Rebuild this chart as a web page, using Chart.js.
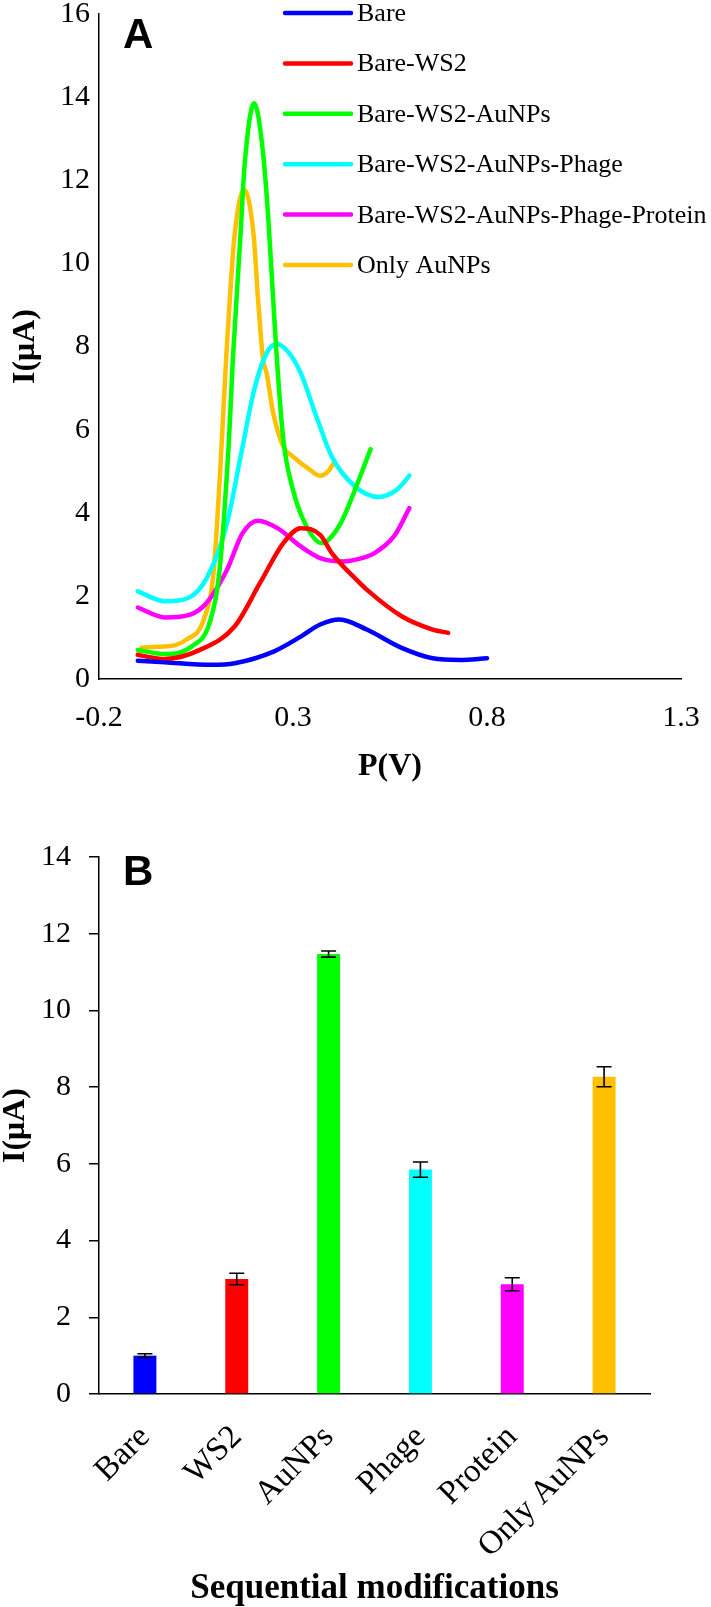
<!DOCTYPE html>
<html lang="en">
<head>
<meta charset="UTF-8">
<title>DPV response</title>
<style>
  body { margin: 0; background: #fff; }
  canvas { display: block; }
</style>
</head>
<body>
<canvas id="chartA" width="711" height="800"></canvas>
<canvas id="chartB" width="711" height="807"></canvas>

<script src="https://cdn.jsdelivr.net/npm/chart.js"></script>
<script>
// ---- panel A: voltammograms ----
const seriesNames = ['Bare', 'Bare-WS2', 'Bare-WS2-AuNPs', 'Bare-WS2-AuNPs-Phage',
                     'Bare-WS2-AuNPs-Phage-Protein', 'Only AuNPs'];

const bareX = [-0.1, -0.03, 0.09, 0.15, 0.25, 0.32, 0.37, 0.42, 0.49, 0.58, 0.66, 0.73, 0.8];
const bareY = [0.44, 0.40, 0.34, 0.38, 0.66, 1.02, 1.31, 1.43, 1.19, 0.75, 0.50, 0.46, 0.50];

const ws2X = [-0.1, -0.03, 0.06, 0.15, 0.215, 0.275, 0.32, 0.37, 0.40, 0.47, 0.49, 0.58, 0.66, 0.70];
const ws2Y = [0.58, 0.48, 0.70, 1.27, 2.31, 3.27, 3.63, 3.47, 3.03, 2.33, 2.15, 1.51, 1.19, 1.11];

const aunpsX = [-0.1, -0.03, 0.04, 0.085, 0.11, 0.135, 0.145, 0.165, 0.175, 0.2, 0.222, 0.236,
                0.249, 0.258, 0.275, 0.30, 0.335, 0.374, 0.42, 0.463, 0.50];
const aunpsY = [0.70, 0.60, 0.79, 1.35, 2.55, 5.76, 7.68, 10.73, 12.33, 13.85, 12.73, 11.13,
                9.12, 7.76, 5.76, 4.55, 3.67, 3.27, 3.7, 4.63, 5.53];

const phageX = [-0.1, -0.03, 0.03, 0.08, 0.13, 0.165, 0.2, 0.232, 0.258, 0.29, 0.32, 0.36,
                0.40, 0.46, 0.52, 0.567, 0.60];
const phageY = [2.11, 1.87, 1.95, 2.47, 3.75, 5.35, 6.96, 7.84, 8.06, 7.84, 7.36, 6.32,
                5.35, 4.63, 4.38, 4.55, 4.89];

const proteinX = [-0.1, -0.03, 0.035, 0.077, 0.13, 0.17, 0.21, 0.26, 0.32, 0.37, 0.43, 0.47,
                  0.51, 0.56, 0.60];
const proteinY = [1.72, 1.48, 1.55, 1.83, 2.63, 3.51, 3.81, 3.63, 3.19, 2.91, 2.83, 2.89,
                  3.03, 3.43, 4.11];

const onlyX = [-0.1, -0.09, -0.03, 0.026, 0.07, 0.095, 0.112, 0.128, 0.137, 0.15, 0.174, 0.198,
               0.21, 0.223, 0.232, 0.249, 0.275, 0.30, 0.344, 0.37, 0.39, 0.406];
const onlyY = [0.58, 0.75, 0.78, 0.95, 1.43, 2.55, 4.95, 7.76, 9.12, 10.73, 11.77, 10.73,
               9.12, 7.68, 7.36, 6.4, 5.59, 5.35, 5.03, 4.89, 4.99, 5.21];

const xTickValues = [-0.2, 0.3, 0.8, 1.3];

// ---- panel B: peak currents ----
const categories = ['Bare', 'WS2', 'AuNPs', 'Phage', 'Protein', 'Only AuNPs'];
const barValues = [1.0, 3.0, 11.47, 5.85, 2.86, 8.27];
const barErrors = [0.05, 0.15, 0.08, 0.2, 0.17, 0.26];

const colors = ['#0000ff', '#ff0000', '#00ff00', '#00ffff', '#ff00ff', '#ffc000'];

const serif = "'Liberation Serif', 'Times New Roman', serif";
Chart.defaults.font.family = serif;
Chart.defaults.color = '#000';

function toPoints(xs, ys) {
    return xs.map((x, i) => ({ x: x, y: ys[i] }));
}

// force axis box size so the plot area lands where the original has it
function fixAxis(size) {
    return function (axis) {
        if (axis.isHorizontal()) axis.height = size;
        else axis.width = size;
        axis.paddingTop = 0; axis.paddingBottom = 0;
        axis.paddingLeft = 0; axis.paddingRight = 0;
    };
}

// big bold letter in the corner
const panelLabel = {
    id: 'panelLabel',
    afterDraw(chart, args, opts) {
        const ctx = chart.ctx;
        ctx.save();
        ctx.font = "bold 42px 'Liberation Sans', Arial, sans-serif";
        ctx.fillStyle = '#000';
        ctx.textBaseline = 'alphabetic';
        ctx.fillText(opts.text, opts.x, opts.y);
        ctx.restore();
    }
};

// legend drawn as a plain column of line + name
const lineLegend = {
    id: 'lineLegend',
    afterDraw(chart, args, opts) {
        if (!opts.show) return;
        const ctx = chart.ctx;
        ctx.save();
        ctx.font = '26px ' + serif;
        ctx.textBaseline = 'alphabetic';
        chart.data.datasets.forEach((ds, i) => {
            const y = opts.top + i * opts.step;
            ctx.strokeStyle = ds.borderColor;
            ctx.lineWidth = 4.5;
            ctx.lineCap = 'round';
            ctx.beginPath();
            ctx.moveTo(opts.x, y);
            ctx.lineTo(opts.x + opts.len, y);
            ctx.stroke();
            ctx.fillStyle = '#000';
            ctx.fillText(ds.label, opts.x + opts.len + 6, y + 8);
        });
        ctx.restore();
    }
};

const errorBars = {
    id: 'errorBars',
    afterDatasetsDraw(chart, args, opts) {
        if (!opts.show) return;
        const ctx = chart.ctx;
        const yScale = chart.scales.y;
        const meta = chart.getDatasetMeta(0);
        ctx.save();
        ctx.strokeStyle = '#000';
        ctx.lineWidth = 1.6;
        meta.data.forEach((bar, i) => {
            const hi = yScale.getPixelForValue(barValues[i] + barErrors[i]);
            const lo = yScale.getPixelForValue(barValues[i] - barErrors[i]);
            ctx.beginPath();
            ctx.moveTo(bar.x, hi); ctx.lineTo(bar.x, lo);
            ctx.moveTo(bar.x - 7.5, hi); ctx.lineTo(bar.x + 7.5, hi);
            ctx.moveTo(bar.x - 7.5, lo); ctx.lineTo(bar.x + 7.5, lo);
            ctx.stroke();
        });
        ctx.restore();
    }
};

Chart.register(panelLabel, lineLegend, errorBars);

const seriesX = [bareX, ws2X, aunpsX, phageX, proteinX, onlyX];
const seriesY = [bareY, ws2Y, aunpsY, phageY, proteinY, onlyY];

new Chart(document.getElementById('chartA'), {
    type: 'scatter',
    data: {
        datasets: seriesNames.map((name, i) => ({
            label: name,
            data: toPoints(seriesX[i], seriesY[i]),
            showLine: true,
            borderColor: colors[i],
            backgroundColor: colors[i],
            borderWidth: 4.5,
            borderCapStyle: 'round',
            pointRadius: 0,
            cubicInterpolationMode: 'monotone'
        }))
    },
    options: {
        responsive: false,
        animation: false,
        layout: { padding: { top: 14, right: 30, left: 0, bottom: 0 } },
        plugins: {
            legend: { display: false },
            tooltip: { enabled: false },
            panelLabel: { text: 'A', x: 123, y: 48 },
            lineLegend: { show: true, x: 285, len: 66, top: 13, step: 50.4 },
            errorBars: { show: false }
        },
        scales: {
            x: {
                type: 'linear',
                min: -0.2,
                max: 1.3,
                afterBuildTicks: axis => { axis.ticks = xTickValues.map(v => ({ value: v })); },
                afterFit: fixAxis(121),
                grid: { display: false, drawTicks: false },
                border: { color: '#000', width: 1.5 },
                ticks: { font: { size: 30 }, padding: 21, callback: v => v.toFixed(1) },
                title: {
                    display: true, text: 'P(V)',
                    font: { size: 32, weight: 'bold', lineHeight: 1 },
                    padding: { top: 0, bottom: 17 }
                }
            },
            y: {
                min: 0,
                max: 16,
                afterFit: fixAxis(99),
                grid: { display: false, drawTicks: false },
                border: { color: '#000', width: 1.5 },
                ticks: { stepSize: 2, font: { size: 30 }, padding: 9 },
                title: {
                    display: true, text: 'I(μA)',
                    font: { size: 32, weight: 'bold', lineHeight: 1 },
                    padding: { top: 10, bottom: 0 }
                }
            }
        }
    }
});

new Chart(document.getElementById('chartB'), {
    type: 'bar',
    data: {
        labels: categories,
        datasets: [{
            label: 'I(μA)',
            data: barValues,
            backgroundColor: colors,
            barPercentage: 0.25,
            categoryPercentage: 1
        }]
    },
    options: {
        responsive: false,
        animation: false,
        layout: { padding: { top: 57, right: 61, left: 0, bottom: 0 } },
        plugins: {
            legend: { display: false },
            tooltip: { enabled: false },
            panelLabel: { text: 'B', x: 123, y: 85 },
            lineLegend: { show: false },
            errorBars: { show: true }
        },
        scales: {
            x: {
                afterFit: fixAxis(213),
                grid: { display: false },
                border: { color: '#000', width: 1.5 },
                ticks: { font: { size: 33 }, padding: 16, minRotation: 45, maxRotation: 45 },
                title: {
                    display: true, text: 'Sequential modifications',
                    font: { size: 35, weight: 'bold', lineHeight: 1 },
                    padding: { top: 0, bottom: 1 }
                }
            },
            y: {
                min: 0,
                max: 14,
                afterFit: fixAxis(99),
                grid: { drawOnChartArea: false, drawTicks: true, tickLength: 10, color: '#000', lineWidth: 1.5 },
                border: { color: '#000', width: 1.5 },
                ticks: { stepSize: 2, font: { size: 30 }, padding: 18 },
                title: {
                    display: true, text: 'I(μA)',
                    font: { size: 32, weight: 'bold', lineHeight: 1 },
                    padding: { top: 0, bottom: 0 }
                }
            }
        }
    }
});
</script>
</body>
</html>
